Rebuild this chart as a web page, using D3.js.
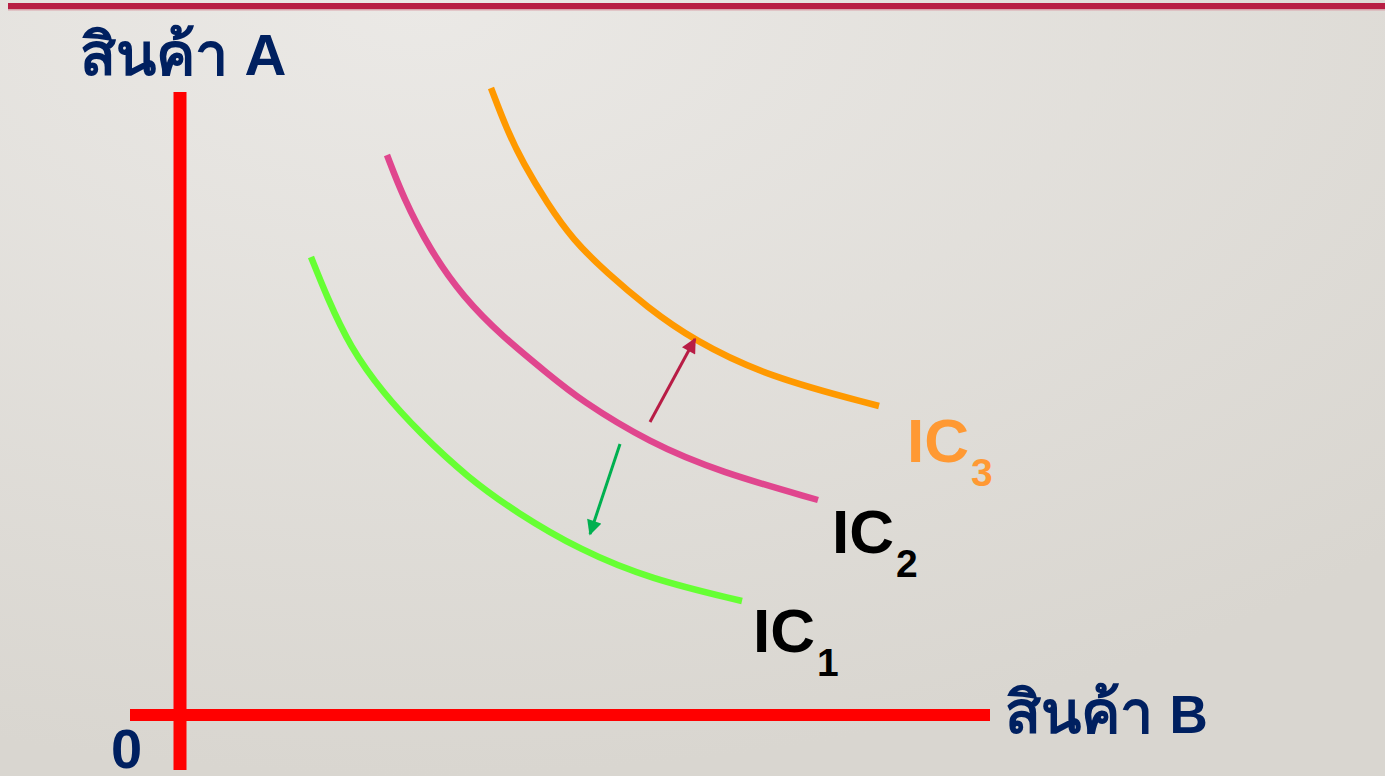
<!DOCTYPE html>
<html>
<head>
<meta charset="utf-8">
<script src="https://cdn.jsdelivr.net/npm/d3@7"></script>
<style>
  html, body { margin: 0; padding: 0; overflow: hidden; }
  svg { display: block; }
</style>
</head>
<body>
<script>
// chart size
let svgWidth = 1385
let svgHeight = 776

// indifference curves (x = good B, y = good A)
let ic1 = [[13.1,45.8],[14.7,41.8],[17.0,36.8],[20.3,32.2],[24.0,28.2],[28.7,23.8],[33.7,20.2],[40.0,16.5],[47.0,13.6],[56.2,11.4]]
let ic2 = [[20.7,56.0],[22.3,51.8],[25.0,46.5],[28.3,41.8],[32.3,37.8],[36.7,34.2],[40.0,31.5],[47.0,27.2],[54.0,24.3],[63.8,21.5]]
let ic3 = [[31.1,62.7],[32.7,58.5],[34.3,55.2],[36.7,51.2],[39.3,47.5],[42.7,44.2],[46.7,40.8],[51.3,37.5],[58.8,33.8],[69.9,30.9]]
let curveNames = ['1', '2', '3']

// shift arrows
let arrowUp = [[47.0,29.3],[51.5,37.6]]
let arrowDown = [[44.0,27.1],[41.0,18.1]]

// axis extents
let xExtent = [-5.0, 81.0]
let yExtent = [-5.5, 62.3]

let xScale = d3.scaleLinear().domain([0, 10]).range([180, 280])
let yScale = d3.scaleLinear().domain([0, 10]).range([715, 615])

let svg = d3.select('body')
    .append('svg')
    .attr('width', svgWidth)
    .attr('height', svgHeight)

// background
let defs = svg.append('defs')
let bg = defs.append('radialGradient')
    .attr('id', 'bg')
    .attr('cx', 0.3).attr('cy', 0.0).attr('r', 1.0)
bg.append('stop').attr('offset', '0%').attr('stop-color', '#ebe9e6')
bg.append('stop').attr('offset', '100%').attr('stop-color', '#d9d6d0')

svg.append('rect')
    .attr('width', svgWidth)
    .attr('height', svgHeight)
    .attr('fill', 'url(#bg)')

// top bar
svg.append('rect')
    .attr('x', 8).attr('y', 3)
    .attr('width', svgWidth - 8).attr('height', 6)
    .attr('fill', '#b81f44')
svg.append('rect')
    .attr('x', 8).attr('y', 9)
    .attr('width', svgWidth - 8).attr('height', 1.5)
    .attr('fill', '#d9a3ab')

// arrow markers
function addMarker(id, color) {
    defs.append('marker')
        .attr('id', id)
        .attr('viewBox', '0 0 10 10')
        .attr('refX', 9).attr('refY', 5)
        .attr('markerWidth', 5.5).attr('markerHeight', 5)
        .attr('markerUnits', 'strokeWidth')
        .attr('orient', 'auto')
        .append('path')
        .attr('d', 'M0,0 L10,5 L0,10 Z')
        .attr('fill', color)
}
addMarker('headRed', '#b81c45')
addMarker('headGreen', '#00b050')

// axes
svg.append('line')
    .attr('x1', xScale(0)).attr('x2', xScale(0))
    .attr('y1', yScale(yExtent[0])).attr('y2', yScale(yExtent[1]))
    .attr('stroke', '#ff0000')
    .attr('stroke-width', 13)

svg.append('line')
    .attr('x1', xScale(xExtent[0])).attr('x2', xScale(xExtent[1]))
    .attr('y1', yScale(0)).attr('y2', yScale(0))
    .attr('stroke', '#ff0000')
    .attr('stroke-width', 12)

// curves (basis smooths out reading noise)
let line = d3.line()
    .x(d => xScale(d[0]))
    .y(d => yScale(d[1]))
    .curve(d3.curveBasis)

let curveColors = ['#66ff33', '#e0468e', '#ff9900']
svg.selectAll('.ic')
    .data([ic1, ic2, ic3])
    .join('path')
    .attr('class', 'ic')
    .attr('d', d => line(d))
    .attr('fill', 'none')
    .attr('stroke', (d, i) => curveColors[i])
    .attr('stroke-width', 6.5)

// arrows
svg.append('path')
    .attr('d', d3.line().x(d => xScale(d[0])).y(d => yScale(d[1]))(arrowUp))
    .attr('stroke', '#b81c45')
    .attr('stroke-width', 3)
    .attr('marker-end', 'url(#headRed)')

svg.append('path')
    .attr('d', d3.line().x(d => xScale(d[0])).y(d => yScale(d[1]))(arrowDown))
    .attr('stroke', '#00b050')
    .attr('stroke-width', 3)
    .attr('marker-end', 'url(#headGreen)')

// curve labels
let labelColors = ['#000000', '#000000', '#ff9933']
let labelOffsets = [[11, -51], [14, -53], [28, -56]]
let curves = [ic1, ic2, ic3]
curves.forEach((c, i) => {
    let end = c[c.length - 1]
    let t = svg.append('text')
        .attr('x', xScale(end[0]) + labelOffsets[i][0])
        .attr('y', yScale(end[1]) - labelOffsets[i][1])
        .attr('fill', labelColors[i])
        .attr('font-family', 'Liberation Sans, Arial, sans-serif')
        .attr('font-weight', 'bold')
        .attr('font-size', 62)
    t.append('tspan').text('IC')
    t.append('tspan')
        .attr('dx', 2).attr('dy', 24)
        .attr('font-size', 39)
        .text(curveNames[i])
})

// axis labels
let font = 'Liberation Sans, Arial, "Noto Sans", sans-serif'
let yLabel = svg.append('text')
    .attr('x', 80).attr('y', 75)
    .attr('fill', '#002060')
    .attr('font-family', font)
    .attr('font-weight', 'bold')
    .attr('font-size', 59)
yLabel.append('tspan').text('สินค้า ')
yLabel.append('tspan').attr('font-size', 58).text('A')

let xLabel = svg.append('text')
    .attr('x', 1005).attr('y', 733)
    .attr('fill', '#002060')
    .attr('font-family', font)
    .attr('font-weight', 'bold')
    .attr('font-size', 59)
xLabel.append('tspan').text('สินค้า ')
xLabel.append('tspan').attr('font-size', 53).text('B')

svg.append('text')
    .attr('x', 111).attr('y', 768)
    .attr('fill', '#002060')
    .attr('font-family', font)
    .attr('font-weight', 'bold')
    .attr('font-size', 56)
    .text('0')
</script>
</body>
</html>
